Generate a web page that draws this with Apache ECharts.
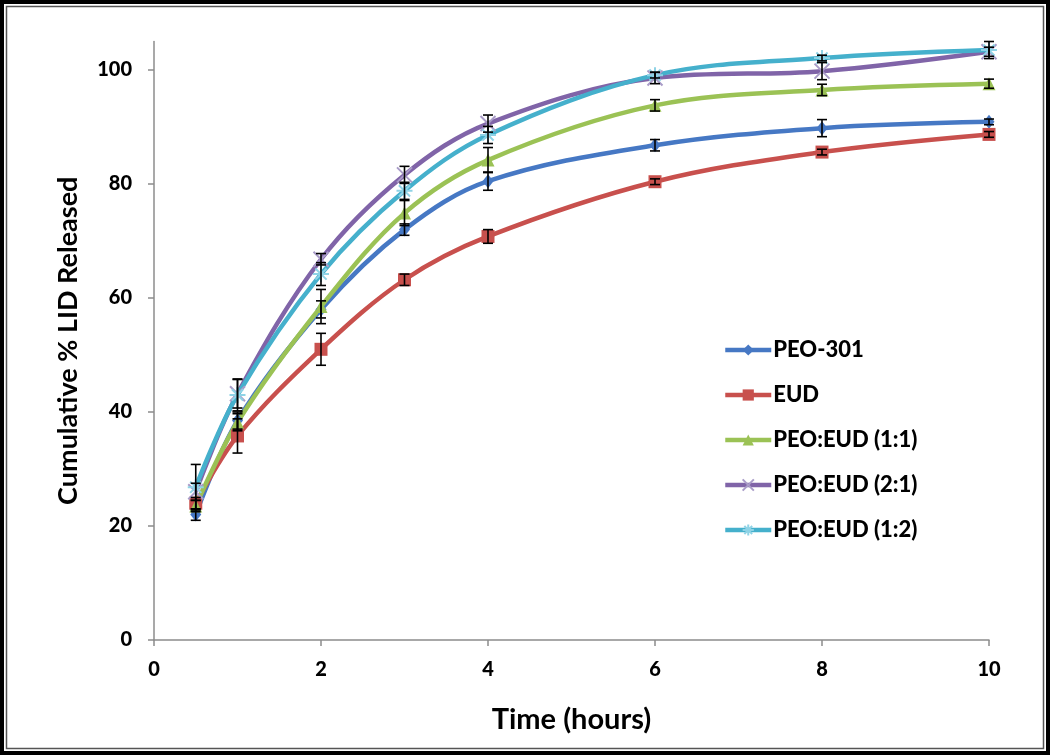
<!DOCTYPE html>
<html>
<head>
<meta charset="utf-8">
<script src="https://cdn.jsdelivr.net/npm/echarts@6/dist/echarts.min.js"></script>
<style>
  html, body { margin: 0; padding: 0; background: #fff; }
  #chart { width: 1050px; height: 755px; }
</style>
</head>
<body>
<div id="chart"></div>
<script>
// time points (hours)
const times = [0.5, 1, 2, 3, 4, 6, 8, 10];

// cumulative % released
const peo301 = [22, 38.5, 58, 72, 80.5, 86.8, 89.8, 90.9];
const eud = [24, 35.8, 51, 63.2, 70.8, 80.4, 85.6, 88.7];
const peoEud11 = [23.5, 38.2, 58.5, 74.9, 84.2, 93.8, 96.5, 97.6];
const peoEud21 = [26, 43.2, 66.8, 81.6, 90.6, 98.6, 99.8, 103.2];
const peoEud12 = [26.8, 43, 64.2, 78.8, 88.6, 99.1, 102.1, 103.5];

// error bar half-widths
const peo301Err = [1, 1.5, 1.5, 1, 1.6, 1, 1.5, 0.5];
const eudErr = [1, 3, 2.8, 1, 1.2, 0.5, 0.5, 0.5];
const peoEud11Err = [1, 1.5, 3, 2.2, 2.2, 1, 1, 0.8];
const peoEud21Err = [1.5, 2.5, 1, 1.5, 1.5, 1, 1.5, 0.8];
const peoEud12Err = [4, 2.8, 2, 1.5, 1.5, 0.5, 0.5, 1.5];

const xTicks = [0, 2, 4, 6, 8, 10];
const yTicks = [0, 20, 40, 60, 80, 100];

const seriesDefs = [
  { name: 'PEO-301', values: peo301, err: peo301Err, color: '#4678c4', mark: '#4678c4', symbol: 'diamond', size: [11, 14] },
  { name: 'EUD', values: eud, err: eudErr, color: '#c8504d', mark: '#c8504d', symbol: 'rect', size: 13 },
  { name: 'PEO:EUD (1:1)', values: peoEud11, err: peoEud11Err, color: '#9bc255', mark: '#9bc255', symbol: 'triangle', size: 13 },
  { name: 'PEO:EUD (2:1)', values: peoEud21, err: peoEud21Err, color: '#8064a8', mark: '#a99cc8', symbol: 'path://M0,0L10,10M10,0L0,10', size: 15, stroke: true },
  { name: 'PEO:EUD (1:2)', values: peoEud12, err: peoEud12Err, color: '#45b0cc', mark: '#8fd3e6', symbol: 'path://M5,0L5,10M0,5L10,5M1.5,1.5L8.5,8.5M8.5,1.5L1.5,8.5', size: 16, stroke: true }
];

const font = 'Lato, "Open Sans", sans-serif';
const chart = echarts.init(document.getElementById('chart'));

const lineSeries = seriesDefs.map(s => ({
  name: s.name,
  type: 'line',
  smooth: 0.35,
  data: times.map((t, i) => [t, s.values[i]]),
  symbol: s.symbol,
  symbolSize: s.size,
  lineStyle: { color: s.color, width: 4.5 },
  itemStyle: s.stroke
    ? { color: s.mark, borderColor: s.mark, borderWidth: 2 }
    : { color: s.mark },
  z: 3
}));

const errSeries = seriesDefs.map(s => ({
  name: s.name + ' err',
  type: 'custom',
  data: times.map((t, i) => [t, s.values[i] - s.err[i], s.values[i] + s.err[i]]),
  renderItem: (params, api) => {
    const lo = api.coord([api.value(0), api.value(1)]);
    const hi = api.coord([api.value(0), api.value(2)]);
    const w = 5;
    const style = { stroke: '#000', lineWidth: 1.6 };
    return {
      type: 'group',
      children: [
        { type: 'line', shape: { x1: lo[0], y1: lo[1], x2: hi[0], y2: hi[1] }, style },
        { type: 'line', shape: { x1: lo[0] - w, y1: lo[1], x2: lo[0] + w, y2: lo[1] }, style },
        { type: 'line', shape: { x1: hi[0] - w, y1: hi[1], x2: hi[0] + w, y2: hi[1] }, style }
      ]
    };
  },
  z: 4,
  silent: true
}));

const option = {
  animation: false,
  backgroundColor: '#fff',
  graphic: [
    { type: 'rect', shape: { x: 2, y: 2, width: 1046, height: 751 }, style: { fill: 'none', stroke: '#000', lineWidth: 4 } },
    { type: 'rect', shape: { x: 6.5, y: 6.5, width: 1037, height: 742 }, style: { fill: 'none', stroke: '#555', lineWidth: 1.5 } }
  ],
  legend: {
    data: seriesDefs.map(s => s.name),
    orient: 'vertical',
    left: 723,
    top: 339,
    padding: 0,
    itemWidth: 46,
    itemHeight: 14,
    itemGap: 23,
    lineStyle: { width: 4.5 },
    textStyle: { fontFamily: font, fontWeight: 900, fontSize: 22, color: '#000', padding: [0, 0, 0, -3] }
  },
  grid: { left: 154, right: 61, top: 41.5, bottom: 115 },
  xAxis: {
    type: 'value',
    min: 0,
    max: 10,
    interval: 2,
    name: 'Time (hours)',
    nameLocation: 'middle',
    nameGap: 65,
    nameTextStyle: { fontFamily: font, fontWeight: 'bold', fontSize: 29, color: '#000' },
    axisLine: { lineStyle: { color: '#8c8c8c', width: 1.5 } },
    axisTick: { show: true, length: 6, lineStyle: { color: '#8c8c8c', width: 1.5 } },
    axisLabel: { customValues: xTicks, fontFamily: font, fontWeight: 900, fontSize: 20, color: '#000', margin: 20 },
    splitLine: { show: false }
  },
  yAxis: {
    type: 'value',
    min: 0,
    max: 105,
    name: 'Cumulative % LID Released',
    nameLocation: 'middle',
    nameGap: 72,
    nameTextStyle: { fontFamily: font, fontWeight: 'bold', fontSize: 27, color: '#000' },
    axisLine: { show: true, lineStyle: { color: '#8c8c8c', width: 1.5 } },
    axisTick: { show: true, length: 6, customValues: yTicks, lineStyle: { color: '#8c8c8c', width: 1.5 } },
    axisLabel: { customValues: yTicks, fontFamily: font, fontWeight: 900, fontSize: 20, color: '#000', margin: 22 },
    splitLine: { show: false }
  },
  series: [...lineSeries, ...errSeries]
};

chart.setOption(option);
</script>
</body>
</html>
